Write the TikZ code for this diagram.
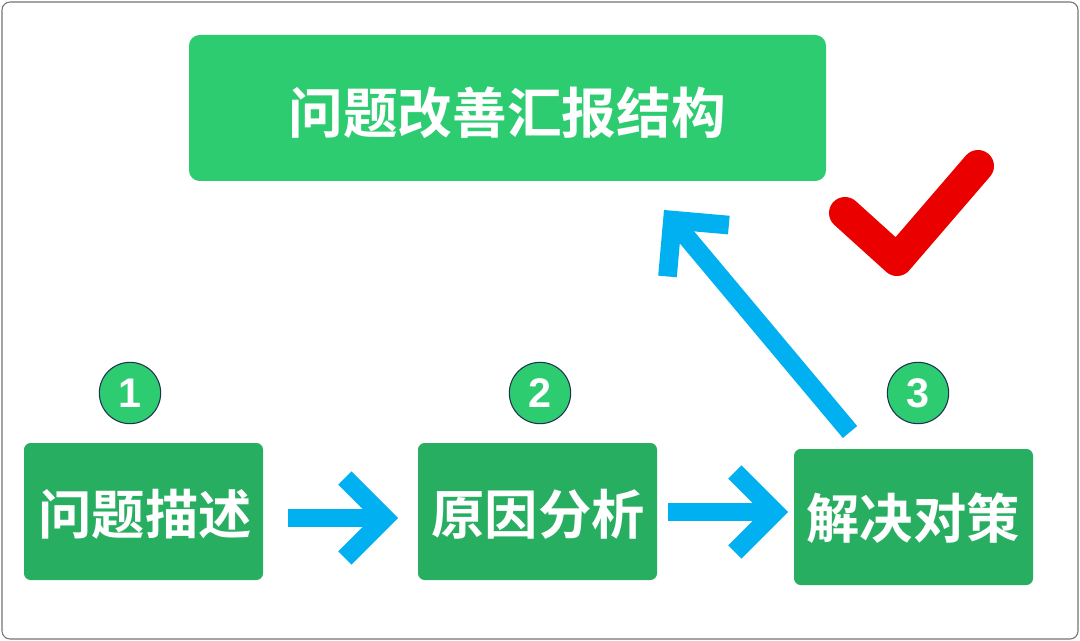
\documentclass[tikz,border=0pt]{standalone}
\usepackage{fontspec}
\newfontfamily\cjk{Noto Sans CJK SC}[BoldFont={* Bold}]
\newfontfamily\numf{Liberation Sans}
\usetikzlibrary{arrows.meta}
\definecolor{gtop}{RGB}{46,204,113}
\definecolor{gbox}{RGB}{39,174,96}
\definecolor{arr}{RGB}{0,176,240}
\definecolor{chk}{RGB}{235,0,0}
\definecolor{ring}{RGB}{30,50,80}
\begin{document}
\begin{tikzpicture}[x=0.75pt,y=-0.75pt,
  box/.style={text=white,font=\cjk\bfseries\fontsize{40}{44}\selectfont},
  num/.style={circle,fill=gtop,draw=ring,line width=0.8pt,minimum size=46pt,inner sep=0pt,font=\numf\bfseries\fontsize{31}{34}\selectfont,text=white},
  flow/.style={arr,line width=14pt,-{Straight Barb[length=30pt,width=60pt,line width=14pt]}}]
\useasboundingbox (0,0) rectangle (1080,641);
\draw[black!55,line width=0.8pt,rounded corners=6pt] (2,2) rectangle (1078,639);
\fill[gtop,rounded corners=8pt] (189,35) rectangle (826,181);
\node[text=white,font=\cjk\bfseries\fontsize{41}{46}\selectfont] (top) at (507,113) {问题改善汇报结构};
\fill[gbox,rounded corners=5pt] (24,443) rectangle (263,580);
\fill[gbox,rounded corners=5pt] (418,443) rectangle (657,580);
\fill[gbox,rounded corners=5pt] (794,449) rectangle (1033,585);
\node[box] (b1) at (145,514) {问题描述};
\node[box] (b2) at (538,514) {原因分析};
\node[box] (b3) at (913,518) {解决对策};
\node[num] (n1) at (130,393) {1};
\node[num] (n2) at (540,393) {2};
\node[num] (n3) at (918,393) {3};
\coordinate (a1s) at (288,518); \coordinate (a1e) at (398,518);
\coordinate (a2s) at (668,512); \coordinate (a2e) at (788,512);
\coordinate (a3s) at (850,432); \coordinate (a3e) at (664,210);
\draw[flow] (a1s) -- (a1e);
\draw[flow] (a2s) -- (a2e);
\draw[flow] (a3s) -- (a3e);
\coordinate (c1) at (845,213); \coordinate (c2) at (897,260); \coordinate (c3) at (978,166);
\draw[chk,line width=24pt,line cap=round,line join=round] (c1) -- (c2) -- (c3);
\end{tikzpicture}
\end{document}
